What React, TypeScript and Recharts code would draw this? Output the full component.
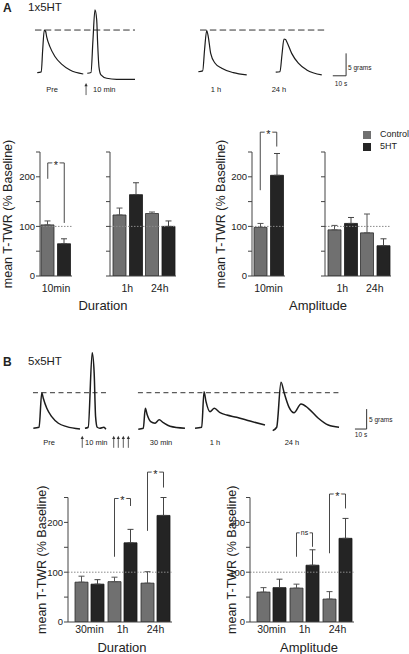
import React from 'react'
import {
  Bar,
  ComposedChart,
  ErrorBar,
  Legend,
  Line,
  LineChart,
  ReferenceLine,
  XAxis,
  YAxis,
} from 'recharts'

const FONT = '"Liberation Sans", Arial, Helvetica, sans-serif'
const CONTROL = '#707070'
const SERO = '#242424'
const AXIS = '#444'
const INK = '#222'

// ---- bar data, % of baseline ----
const A_TIMES = ['10min', '1h', '24h']
const aDurControl = [103, 123, 126]
const aDurControlSem = [8, 14, 3]
const aDur5ht = [65, 164, 100]
const aDur5htSem = [10, 24, 11]
const aAmpControl = [98, 93, 87]
const aAmpControlSem = [8, 9, 38]
const aAmp5ht = [203, 106, 61]
const aAmp5htSem = [44, 12, 14]

const B_TIMES = ['30min', '1h', '24h']
const bDurControl = [80, 81, 78]
const bDurControlSem = [12, 9, 23]
const bDur5ht = [76, 159, 214]
const bDur5htSem = [9, 27, 36]
const bAmpControl = [60, 68, 46]
const bAmpControlSem = [9, 8, 15]
const bAmp5ht = [69, 114, 168]
const bAmp5htSem = [17, 31, 40]

// significance brackets: leg bottoms and top in % units
const aDurMarks = [{ time: '10min', left: 196, top: 228, right: 107, mark: '*' }]
const aAmpMarks = [{ time: '10min', left: 173, top: 290, right: 261, mark: '*' }]
const bDurMarks = [
  { time: '1h', left: 131, top: 248, right: 233, mark: '*' },
  { time: '24h', left: 183, top: 301, right: 270, mark: '*' },
]
const bAmpMarks = [
  { time: '1h', left: 131, top: 179, right: 151, mark: 'ns' },
  { time: '24h', left: 138, top: 257, right: 228, mark: '*' },
]

// ---- representative traces: [seconds, grams above baseline] ----
const aPre = [[0, 0], [3, 0.16], [4.1, 5.1], [5.3, 9.5], [6.3, 9.2], [7.1, 8.0], [9.5, 5.8], [13.3, 3.6], [18.3, 1.9], [24.6, 0.6], [34.6, -0.3]]
const a10min = [[0, -0.13], [2.8, 0.04], [4.3, 7.3], [5.8, 14], [7.1, 11.8], [7.8, 6.6], [8.8, 1.3], [10.3, -0.5], [14.6, -1.25], [22.1, -1.5], [35.9, -1.5]]
const a1h = [[0, 0.2], [3.3, 0.4], [4.7, 5.1], [6.3, 9.4], [7.5, 8.0], [9.3, 4.3], [12.6, 2.1], [17.6, 1.0], [26.3, 0], [36.4, -0.5]]
const a24h = [[0, 0.1], [3.2, 0.2], [4.7, 4.0], [6.2, 7.5], [7.4, 7.4], [8.3, 6.9], [12, 4.3], [17, 2.1], [23.3, 0.6], [34.6, -0.5]]

const bPre = [[0, 0], [4.9, 0.25], [7.2, 8.9], [8.5, 7.5], [11.5, 5.0], [15.7, 2.9], [21.4, 1.25], [28.5, 0.4], [39.9, -0.2]]
const b10min = [[0, 0], [2.8, 0.25], [6.2, 18.9], [7.9, 13.75], [9.1, 2.9], [10.5, 0.25], [12.8, 0], [16.2, 0.25], [17.9, -0.25]]
const b30min = [[0, -0.25], [4.3, 0], [6.0, 5.0], [7.7, 3.3], [10.6, 1.65], [14.3, 1.25], [17.9, 2.1], [21.4, 1.4], [27.1, 0.5], [39.9, 0]]
const b1h = [[0, 0], [5.7, 0.25], [7.7, 9.15], [9.4, 6.65], [12.8, 4.15], [16.5, 5.0], [21.4, 3.9], [27.1, 3.3], [35.6, 2.75], [47, 1.8], [59.8, 0.8]]
const b24h = [[0, -0.6], [3.4, 0.25], [7.1, 11.5], [9.9, 8.75], [13.9, 5.3], [18.2, 3.9], [24.2, 6.1], [30.4, 5.0], [39, 2.5], [47.5, 0.8], [56.7, 0.25]]

const aStimuli = [64.7]
const bStimuli = [70.3, 97.2, 101.1, 105.4, 109.7]
const SCALE_G = 5
const SCALE_S = 10

// where each recording sits along the strip (s)
const aStarts = [28.0, 65.6, 149.1, 207.3]
const bStarts = [28.5, 72.6, 118.2, 166.7, 233.1]

const rowsFrom = (times: string[], c: number[], cs: number[], h: number[], hs: number[]) =>
  times.map((time, i) => ({ time, ctrl: c[i], ctrlErr: [0, cs[i]], ht: h[i], htErr: [0, hs[i]] }))

const aDurRows = rowsFrom(A_TIMES, aDurControl, aDurControlSem, aDur5ht, aDur5htSem)
const aAmpRows = rowsFrom(A_TIMES, aAmpControl, aAmpControlSem, aAmp5ht, aAmp5htSem)
const bDurRows = rowsFrom(B_TIMES, bDurControl, bDurControlSem, bDur5ht, bDur5htSem)
const bAmpRows = rowsFrom(B_TIMES, bAmpControl, bAmpControlSem, bAmp5ht, bAmp5htSem)

function Txt({ x, y, size, anchor = 'middle', weight = 400, children }: any) {
  const tx = anchor === 'middle' ? '-50%' : anchor === 'end' ? '-100%' : '0'
  return (
    <div
      style={{
        position: 'absolute',
        left: x,
        top: y,
        transform: `translate(${tx}, -50%)`,
        fontSize: size,
        fontWeight: weight,
        lineHeight: 1,
        whiteSpace: 'nowrap',
        color: INK,
      }}
    >
      {children}
    </div>
  )
}

const arrowShape = (p: any) => {
  const top = Math.min(p.y1, p.y2)
  const bottom = Math.max(p.y1, p.y2)
  const x = p.x1
  return (
    <g>
      <line x1={x} x2={x} y1={top + 2} y2={bottom} stroke="#333" strokeWidth={0.8} />
      <path d={`M${x - 1.6},${top + 3.2} L${x},${top} L${x + 1.6},${top + 3.2} Z`} fill="#333" />
    </g>
  )
}

function TraceStrip({ top, height, xMax, yDomain, traces, starts, dashY, dashRuns, dash, bar, stimuli, stimY, lineWidth }: any) {
  return (
    <div style={{ position: 'absolute', left: 0, top }}>
      <LineChart width={409} height={height} margin={{ top: 0, right: 0, bottom: 0, left: 0 }}>
        <XAxis type="number" dataKey="t" domain={[0, xMax]} hide allowDataOverflow />
        <YAxis type="number" domain={yDomain} hide allowDataOverflow />
        {dashRuns.map(([a, b]: number[], i: number) => (
          <ReferenceLine
            key={'d' + i}
            segment={[{ x: a, y: dashY }, { x: b, y: dashY }]}
            stroke="#333"
            strokeWidth={1}
            strokeDasharray={dash}
            ifOverflow="visible"
          />
        ))}
        {traces.map((pts: number[][], i: number) => (
          <Line
            key={'t' + i}
            data={pts.map(([t, g]) => ({ t: t + starts[i], g }))}
            dataKey="g"
            type="monotone"
            dot={false}
            activeDot={false}
            stroke="#1c1c1c"
            strokeWidth={lineWidth}
            isAnimationActive={false}
          />
        ))}
        <ReferenceLine
          segment={[{ x: bar.x, y: bar.y }, { x: bar.x, y: bar.y + SCALE_G }]}
          stroke="#333"
          strokeWidth={1}
          ifOverflow="visible"
        />
        <ReferenceLine
          segment={[{ x: bar.x - SCALE_S, y: bar.y }, { x: bar.x, y: bar.y }]}
          stroke="#333"
          strokeWidth={1}
          ifOverflow="visible"
        />
        {stimuli.map((t: number, i: number) => (
          <ReferenceLine
            key={'s' + i}
            segment={[{ x: t, y: stimY[0] }, { x: t, y: stimY[1] }]}
            shape={arrowShape}
            ifOverflow="visible"
          />
        ))}
      </LineChart>
    </div>
  )
}

// brackets hang on the category centre; legs sit over the two bar centres
function bracket(b: any, i: number, leg: number) {
  const t = b.time
  const ln = { stroke: '#333', strokeWidth: 0.9 }
  return [
    <ReferenceLine
      key={`l${i}`}
      segment={[{ x: t, y: b.left }, { x: t, y: b.top }]}
      ifOverflow="visible"
      shape={(p: any) => <line x1={p.x1 - leg} x2={p.x2 - leg} y1={p.y1} y2={p.y2} {...ln} />}
    />,
    <ReferenceLine
      key={`r${i}`}
      segment={[{ x: t, y: b.top }, { x: t, y: b.right }]}
      ifOverflow="visible"
      shape={(p: any) => <line x1={p.x1 + leg} x2={p.x2 + leg} y1={p.y1} y2={p.y2} {...ln} />}
    />,
    <ReferenceLine
      key={`t${i}`}
      segment={[{ x: t, y: b.top }, { x: t, y: b.top }]}
      ifOverflow="visible"
      shape={(p: any) => (
        <g>
          <line x1={p.x1 - leg} x2={p.x1 + leg} y1={p.y1} y2={p.y1} {...ln} />
          <text
            x={p.x1}
            y={p.y1 + (b.mark === '*' ? 6 : 2.3)}
            textAnchor="middle"
            fontSize={b.mark === '*' ? 11 : 7}
            fontFamily={FONT}
            fill={INK}
            stroke="#fff"
            strokeWidth={3}
            paintOrder="stroke"
          >
            {b.mark}
          </text>
        </g>
      )}
    />,
  ]
}

function BarPanel({ box, rows, yAxisWidth, labelled, titleOffset, pad, tickGap, marks = [], legend = false }: any) {
  const leg = box.gap / 2 + 13 / 2
  return (
    <div style={{ position: 'absolute', left: box.left, top: box.top }}>
      <ComposedChart
        width={box.width}
        height={box.height}
        data={rows}
        margin={{ top: box.marginTop, right: 4, bottom: 0, left: 0 }}
        barSize={13}
        barGap={box.gap}
      >
        <XAxis
          dataKey="time"
          height={box.xAxisHeight}
          padding={{ left: pad, right: 0 }}
          tickLine={false}
          axisLine={{ stroke: AXIS }}
          tick={{ fontSize: 10.5, fill: INK, fontFamily: FONT }}
          tickSize={tickGap[0]}
          tickMargin={tickGap[1]}
          interval={0}
        />
        <YAxis
          width={yAxisWidth}
          domain={[0, 250]}
          ticks={[0, 50, 100, 150, 200, 250]}
          interval={0}
          allowDataOverflow
          tickSize={4}
          tickMargin={1}
          axisLine={{ stroke: AXIS }}
          tickLine={{ stroke: AXIS }}
          tick={{ fontSize: 9.5, fill: INK, fontFamily: FONT }}
          tickFormatter={(v: number) => (labelled && v % 100 === 0 ? String(v) : '')}
          label={
            labelled
              ? {
                  value: 'mean T-TWR (% Baseline)',
                  angle: -90,
                  position: 'insideLeft',
                  offset: titleOffset,
                  style: { textAnchor: 'middle', fontSize: 12.5, fill: INK, fontFamily: FONT },
                }
              : undefined
          }
        />
        <ReferenceLine y={100} stroke="#8a8a8a" strokeDasharray="1.5 1.5" />
        <Bar dataKey="ctrl" name="Control" fill={CONTROL} stroke="#2b2b2b" strokeWidth={0.8} isAnimationActive={false}>
          <ErrorBar dataKey="ctrlErr" width={3} stroke="#555" strokeWidth={1} />
        </Bar>
        <Bar dataKey="ht" name="5HT" fill={SERO} stroke="#1a1a1a" strokeWidth={0.8} isAnimationActive={false}>
          <ErrorBar dataKey="htErr" width={3} stroke="#444" strokeWidth={1} />
        </Bar>
        {marks.flatMap((b: any, i: number) => bracket(b, i, leg))}
        {legend && (
          <Legend
            layout="vertical"
            align="center"
            verticalAlign="middle"
            iconType="square"
            iconSize={8}
            itemSorter={(item: any) => (item.value === 'Control' ? 0 : 1)}
            wrapperStyle={{ top: 8, left: 48, width: 60, fontSize: 9, lineHeight: '12px', fontFamily: FONT, whiteSpace: 'nowrap' }}
            formatter={(v: string) => <span style={{ color: INK, marginLeft: 5 }}>{v}</span>}
          />
        )}
      </ComposedChart>
    </div>
  )
}

const boxA = (left: number, width: number) => ({ left, top: 120, width, height: 200, marginTop: 32, xAxisHeight: 44, gap: 3.5 })
const boxB = (left: number, width: number) => ({ left, top: 460, width, height: 194, marginTop: 37.5, xAxisHeight: 32, gap: 3 })

export default function App() {
  return (
    <div
      style={{
        position: 'relative',
        width: 409,
        height: 654,
        overflow: 'hidden',
        background: '#fff',
        fontFamily: FONT,
        color: INK,
      }}
    >
      <style>{'body{margin:0}'}</style>

      {/* ---------- A ---------- */}
      <Txt x={3} y={8} size={12} anchor="start" weight={700}>A</Txt>
      <Txt x={28} y={8} size={11.5} anchor="start">1x5HT</Txt>
      <TraceStrip
        top={0}
        height={100}
        xMax={307.5}
        yDomain={[-6.1, 16.2]}
        traces={[aPre, a10min, a1h, a24h]}
        starts={aStarts}
        dashY={9.5}
        dashRuns={[[26.3, 101.5], [150.4, 245.1]]}
        dash="6.5 3.3"
        bar={{ x: 260.2, y: -0.7 }}
        stimuli={aStimuli}
        stimY={[-2.3, -5.0]}
        lineWidth={1.2}
      />
      <Txt x={52} y={90} size={7.5}>Pre</Txt>
      <Txt x={93} y={90} size={7.5} anchor="start">10 min</Txt>
      <Txt x={216} y={90} size={7.5}>1 h</Txt>
      <Txt x={279} y={90} size={7.5}>24 h</Txt>
      <Txt x={348} y={67.5} size={6.5} anchor="start">5 grams</Txt>
      <Txt x={341} y={84} size={6.5}>10 s</Txt>

      <BarPanel box={boxA(0, 76)} rows={aDurRows.slice(0, 1)} yAxisWidth={40} labelled titleOffset={8} pad={0} tickGap={[6, 3]} marks={aDurMarks} />
      <BarPanel box={boxA(100, 80)} rows={aDurRows.slice(1)} yAxisWidth={10} labelled={false} pad={1} tickGap={[6, 3]} />
      <BarPanel box={boxA(200, 89)} rows={aAmpRows.slice(0, 1)} yAxisWidth={52} labelled titleOffset={20.5} pad={0} tickGap={[6, 3]} marks={aAmpMarks} />
      <BarPanel box={boxA(315, 80)} rows={aAmpRows.slice(1)} yAxisWidth={10} labelled={false} pad={1} tickGap={[6, 3]} legend />
      <Txt x={103} y={305} size={13}>Duration</Txt>
      <Txt x={318} y={305} size={13}>Amplitude</Txt>

      {/* ---------- B ---------- */}
      <Txt x={3} y={362} size={12} anchor="start" weight={700}>B</Txt>
      <Txt x={28} y={362} size={11.5} anchor="start">5x5HT</Txt>
      <TraceStrip
        top={340}
        height={115}
        xMax={349.6}
        yDomain={[-6.7, 22.1]}
        traces={[bPre, b10min, b30min, b1h, b24h]}
        starts={bStarts}
        dashY={8.9}
        dashRuns={[[28.2, 90.6], [117.9, 290.6]]}
        dash="5 3.5"
        bar={{ x: 313.4, y: -0.2 }}
        stimuli={bStimuli}
        stimY={[-1.9, -4.9]}
        lineWidth={1.5}
      />
      <Txt x={49} y={443} size={7.5}>Pre</Txt>
      <Txt x={85} y={443} size={7.5} anchor="start">10 min</Txt>
      <Txt x={161} y={443} size={7.5}>30 min</Txt>
      <Txt x={215} y={443} size={7.5}>1 h</Txt>
      <Txt x={292} y={443} size={7.5}>24 h</Txt>
      <Txt x={369} y={420} size={6.5} anchor="start">5 grams</Txt>
      <Txt x={361} y={435} size={6.5}>10 s</Txt>

      <BarPanel box={boxB(0, 176)} rows={bDurRows} yAxisWidth={68} labelled titleOffset={41.5} pad={5} tickGap={[2, 2]} marks={bDurMarks} />
      <BarPanel box={boxB(200, 158)} rows={bAmpRows} yAxisWidth={50} labelled titleOffset={32} pad={5} tickGap={[2, 2]} marks={bAmpMarks} />
      <Txt x={122} y={647} size={13}>Duration</Txt>
      <Txt x={309} y={647} size={13}>Amplitude</Txt>
    </div>
  )
}
